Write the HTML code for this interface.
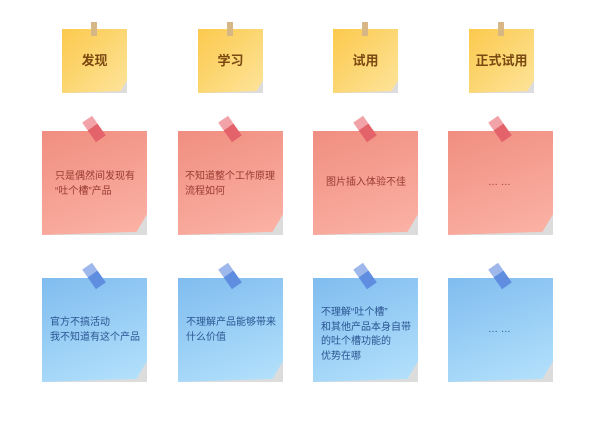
<!DOCTYPE html>
<html><head><meta charset="utf-8"><style>
body{margin:0;width:600px;height:426px;background:#fff;position:relative;overflow:hidden;font-family:"Liberation Sans","Noto Sans CJK SC",sans-serif}
.n{position:absolute}
.n .bg{position:absolute;inset:0;background:#dcdcdc}
.n .fc{position:absolute;inset:0;clip-path:polygon(0 0,100% 0,100% 80%,90% 97%,0 100%)}
.y .fc{background:linear-gradient(135deg,#fcc94d,#fde49a)}
.r .fc{background:linear-gradient(160deg,#f08e80,#fbb3a6)}
.b .fc{background:linear-gradient(160deg,#7fbcef,#b5e2fc)}
.t{position:absolute;font-size:10px;line-height:14.5px;white-space:nowrap}
.r .t{color:#9a3a32}
.b .t{color:#2a5592}
.y .t{color:#7a4a12;font-weight:bold;font-size:13px;width:100%;text-align:center;top:25px}
.tp{position:absolute;width:6px;height:14px;background:#d8b787;left:29px;top:-7px}
.tr{position:absolute;width:12px;height:24px;left:46px;top:-14px;transform:rotate(-35deg)}
.r .tr{background:linear-gradient(#f2a3a8 40%,#e4636a 40%)}
.b .tr{background:linear-gradient(#9fb8ec 40%,#5f8ee0 40%)}
</style></head><body>
<div class="n y" style="left:62px;top:29px;width:65px;height:64px"><div class="bg"></div><div class="fc"></div><div class="tp"></div><div class="t">发现</div></div>
<div class="n y" style="left:198px;top:29px;width:65px;height:64px"><div class="bg"></div><div class="fc"></div><div class="tp"></div><div class="t">学习</div></div>
<div class="n y" style="left:333px;top:29px;width:65px;height:64px"><div class="bg"></div><div class="fc"></div><div class="tp"></div><div class="t">试用</div></div>
<div class="n y" style="left:469px;top:29px;width:65px;height:64px"><div class="bg"></div><div class="fc"></div><div class="tp"></div><div class="t">正式试用</div></div>

<div class="n r" style="left:42px;top:131px;width:105px;height:104px"><div class="bg"></div><div class="fc"></div><div class="tr"></div><div class="t" style="left:13px;top:39px">只是偶然间发现有<br>“吐个槽”产品</div></div>
<div class="n r" style="left:178px;top:131px;width:105px;height:104px"><div class="bg"></div><div class="fc"></div><div class="tr"></div><div class="t" style="left:7px;top:39px">不知道整个工作原理<br>流程如何</div></div>
<div class="n r" style="left:313px;top:131px;width:105px;height:104px"><div class="bg"></div><div class="fc"></div><div class="tr"></div><div class="t" style="left:13px;top:45px">图片插入体验不佳</div></div>
<div class="n r" style="left:448px;top:131px;width:105px;height:104px"><div class="bg"></div><div class="fc"></div><div class="tr"></div><div class="t" style="left:40px;top:45px">… …</div></div>

<div class="n b" style="left:42px;top:278px;width:105px;height:104px"><div class="bg"></div><div class="fc"></div><div class="tr"></div><div class="t" style="left:8px;top:38px">官方不搞活动<br>我不知道有这个产品</div></div>
<div class="n b" style="left:178px;top:278px;width:105px;height:104px"><div class="bg"></div><div class="fc"></div><div class="tr"></div><div class="t" style="left:8px;top:38px">不理解产品能够带来<br>什么价值</div></div>
<div class="n b" style="left:313px;top:278px;width:105px;height:104px"><div class="bg"></div><div class="fc"></div><div class="tr"></div><div class="t" style="left:8px;top:28px">不理解“吐个槽”<br>和其他产品本身自带<br>的吐个槽功能的<br>优势在哪</div></div>
<div class="n b" style="left:448px;top:278px;width:105px;height:104px"><div class="bg"></div><div class="fc"></div><div class="tr"></div><div class="t" style="left:40px;top:45px">… …</div></div>
</body></html>
